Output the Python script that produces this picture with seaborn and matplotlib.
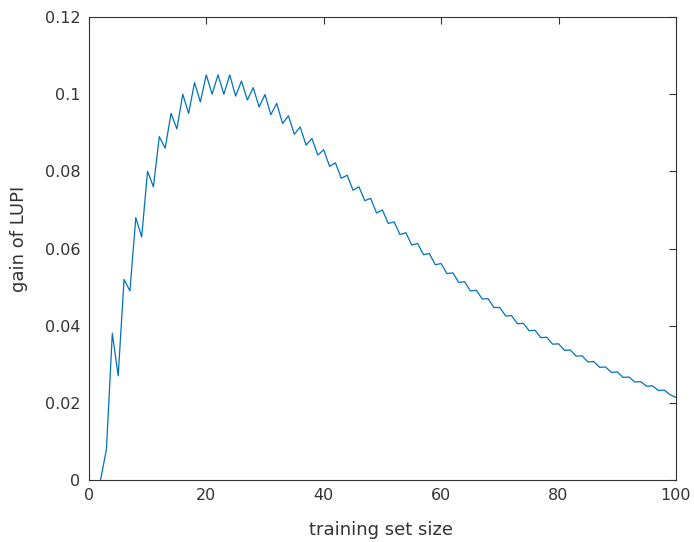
import matplotlib
matplotlib.use("Agg")
import matplotlib.pyplot as plt
import seaborn as sns
import pandas as pd

# ---- data ----
train_size = list(range(2, 101))
gain = [
    0.000, 0.008, 0.038, 0.027, 0.052, 0.049, 0.068, 0.063, 0.080,   # 2-10
    0.076, 0.089, 0.086, 0.095, 0.091, 0.100, 0.095, 0.103, 0.098, 0.105,  # 11-20
    0.100, 0.105, 0.100, 0.105, 0.0995, 0.1034, 0.0985, 0.1017, 0.0967, 0.0999,  # 21-30
    0.0947, 0.0976, 0.0924, 0.0944, 0.0896, 0.0915, 0.0868, 0.0885, 0.0842, 0.0856,  # 31-40
    0.0813, 0.0822, 0.0782, 0.0790, 0.0751, 0.0760, 0.0724, 0.0730, 0.0692, 0.0700,  # 41-50
    0.0665, 0.0669, 0.0636, 0.0641, 0.0609, 0.0613, 0.0584, 0.0587, 0.0558, 0.0561,  # 51-60
    0.0535, 0.0537, 0.0512, 0.0514, 0.0490, 0.0492, 0.0469, 0.0470, 0.0447, 0.0447,  # 61-70
    0.0425, 0.0426, 0.0405, 0.0406, 0.0387, 0.0388, 0.0369, 0.0370, 0.0352, 0.0353,  # 71-80
    0.0336, 0.0337, 0.0321, 0.0322, 0.0306, 0.0307, 0.0292, 0.0293, 0.0279, 0.0280,  # 81-90
    0.0266, 0.0267, 0.0254, 0.0255, 0.0243, 0.0244, 0.0232, 0.0233, 0.0221, 0.0214,  # 91-100
]
x_ticks = [0, 20, 40, 60, 80, 100]
y_ticks = [0, 0.02, 0.04, 0.06, 0.08, 0.10, 0.12]
y_tick_labels = ["0", "0.02", "0.04", "0.06", "0.08", "0.1", "0.12"]
x_label = "training set size"
y_label = "gain of LUPI"

df = pd.DataFrame({"size": train_size, "gain": gain})

sns.set_style("white")
plt.rcParams["font.family"] = ["DejaVu Sans"]

fig = plt.figure(figsize=(6.94, 5.42), dpi=100)
ax = fig.add_axes([0.128, 0.1144, 0.846, 0.8542])

sns.lineplot(data=df, x="size", y="gain", ax=ax, color="#0072BD", linewidth=0.9)

dark = "#333333"
ax.set_xlim(0, 100)
ax.set_ylim(0, 0.12)
ax.set_xticks(x_ticks)
ax.set_xticklabels([str(t) for t in x_ticks])
ax.set_yticks(y_ticks)
ax.set_yticklabels(y_tick_labels)
ax.tick_params(direction="in", length=5, width=0.8, colors=dark,
               labelsize=11.5, top=True, right=True, pad=6)
for sp in ax.spines.values():
    sp.set_visible(True)
    sp.set_color(dark)
    sp.set_linewidth(0.8)

ax.set_xlabel(x_label, fontsize=13, color=dark)
ax.set_ylabel(y_label, fontsize=13, color=dark)
ax.xaxis.set_label_coords(0.497, -0.088)
ax.yaxis.set_label_coords(-0.104, 0.52)

fig.savefig("out.png", dpi=100, facecolor="white")
